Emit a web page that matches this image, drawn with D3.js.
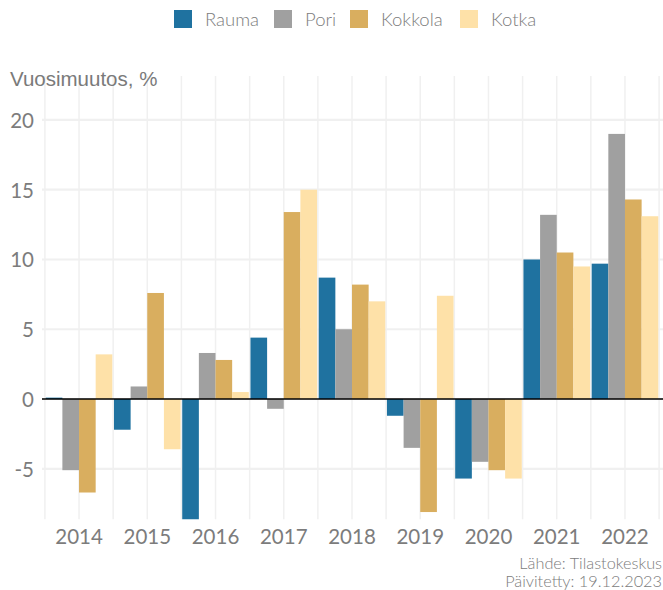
<!DOCTYPE html>
<html><head><meta charset="utf-8">
<script src="https://cdn.jsdelivr.net/npm/d3@7"></script>
<style>body{margin:0;background:#fff}svg{display:block}</style>
</head><body>
<svg id="c" width="663" height="590"></svg>
<script>
const years = ["2014","2015","2016","2017","2018","2019","2020","2021","2022"];
const seriesNames = ["Rauma","Pori","Kokkola","Kotka"];
const seriesColors = ["#1f72a0","#a0a0a0","#d9ae5f","#fee1a8"];
const rauma   = [0.1, -2.2, -9.5, 4.4, 8.7, -1.2, -5.7, 10.0, 9.7];
const pori    = [-5.1, 0.9, 3.3, -0.7, 5.0, -3.5, -4.5, 13.2, 19.0];
const kokkola = [-6.7, 7.6, 2.8, 13.4, 8.2, -8.1, -5.1, 10.5, 14.3];
const kotka   = [3.2, -3.6, 0.5, 15.0, 7.0, 7.4, -5.7, 9.5, 13.1];
const yTicks = [20, 15, 10, 5, 0, -5];
const yTitle = "Vuosimuutos, %";
const sourceLines = ["Lähde: Tilastokeskus", "Päivitetty: 19.12.2023"];

const seriesValues = [rauma, pori, kokkola, kotka];
const svg = d3.select("#c");
const panel = {left: 42, right: 663, top: 76, bottom: 519.3};
const x = d3.scaleBand().domain(years).range([44.9, 659.1]).paddingInner(0).paddingOuter(0);
const y = d3.scaleLinear().domain([-8.62, 23.15]).range([panel.bottom, panel.top]);
const inner = d3.scaleBand().domain(seriesNames).range([0, x.bandwidth()]).paddingOuter(0.05).paddingInner(0);
const grid = "#f0f0f0", txt = "#7c7c7c";

svg.append("defs").append("clipPath").attr("id","clip").append("rect")
  .attr("x", panel.left).attr("y", panel.top).attr("width", panel.right-panel.left).attr("height", panel.bottom-panel.top);

// vertical gridlines (band edges and centers)
const vx = [];
years.forEach((yr,i)=>{ vx.push(x(yr)); vx.push(x(yr)+x.bandwidth()/2); });
vx.push(x(years[years.length-1]) + x.bandwidth());
svg.append("g").selectAll("line").data(vx).join("line")
  .attr("x1", d=>d).attr("x2", d=>d).attr("y1", panel.top).attr("y2", panel.bottom)
  .attr("stroke", grid).attr("stroke-width", 1.5);
// horizontal gridlines
svg.append("g").selectAll("line").data(yTicks).join("line")
  .attr("x1", panel.left).attr("x2", panel.right).attr("y1", d=>y(d)).attr("y2", d=>y(d))
  .attr("stroke", grid).attr("stroke-width", 2.2);

// bars
const bars = [];
seriesNames.forEach((s,si)=>{ years.forEach((yr,i)=>bars.push({s, si, yr, v: seriesValues[si][i]})); });
svg.append("g").attr("clip-path","url(#clip)").selectAll("rect").data(bars).join("rect")
  .attr("x", d=>x(d.yr)+inner(d.s)).attr("width", inner.bandwidth())
  .attr("y", d=>y(Math.max(0,d.v))).attr("height", d=>Math.abs(y(d.v)-y(0)))
  .attr("fill", d=>seriesColors[d.si]);

// zero line
svg.append("line").attr("x1", panel.left).attr("x2", panel.right).attr("y1", y(0)).attr("y2", y(0))
  .attr("stroke", "#000").attr("stroke-width", 1.4);

// axes labels
const xAxis = d3.axisBottom(x).tickSize(0).tickPadding(0);
const gx = svg.append("g").attr("transform", `translate(0,${panel.bottom})`).call(xAxis);
gx.select(".domain").remove();
gx.selectAll("text").attr("font-family","Lato").attr("font-size", 20.5).attr("fill", txt).attr("dy", null).attr("y", 25);

const yAxis = d3.axisLeft(y).tickValues(yTicks).tickSize(0).tickPadding(0).tickFormat(d=>d<0?"-"+Math.abs(d):String(d));
const gy = svg.append("g").attr("transform", `translate(34,0)`).call(yAxis);
gy.select(".domain").remove();
gy.selectAll("text").attr("font-family","Lato").attr("font-size", 20.5).attr("fill", txt).attr("dy","0.36em");

svg.append("text").attr("x", 10).attr("y", 86).text(yTitle)
  .attr("font-family","Liberation Sans, Arial").attr("font-size", 20.5).attr("fill", "#7a7a7a");

// legend
const legX = [174, 274, 350, 460];
const lg = svg.append("g").selectAll("g").data(seriesNames).join("g")
  .attr("transform", (d,i)=>`translate(${legX[i]},10)`);
lg.append("rect").attr("width", 18).attr("height", 18).attr("fill", (d,i)=>seriesColors[i]);
lg.append("text").attr("x", 31).attr("y", 16).text(d=>d)
  .attr("font-family","Lato").attr("font-weight", 300).attr("font-size", 18.5).attr("fill", txt);

// source
svg.append("g").selectAll("text").data(sourceLines).join("text")
  .attr("x", 662).attr("y", (d,i)=>568.5 + i*18.5).attr("text-anchor","end").text(d=>d)
  .attr("font-family","Lato").attr("font-weight",300).attr("font-size", 16.3).attr("fill", txt);
</script>
</body></html>
